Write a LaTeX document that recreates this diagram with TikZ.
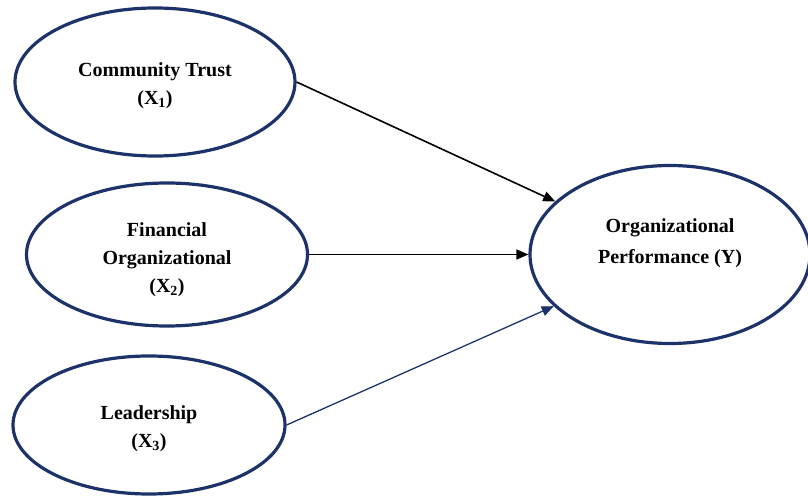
\documentclass[tikz,border=0pt]{standalone}
\usepackage{fontspec}
\setmainfont{Liberation Serif}
\usepackage{xcolor}
\usetikzlibrary{arrows.meta, shapes.geometric}

\definecolor{navy}{RGB}{28,50,104}

\begin{document}
\begin{tikzpicture}[
            x=1pt, y=-1pt,
            var/.style={ellipse, draw=navy, line width=3.2pt, inner sep=0pt},
            txt/.style={align=center, inner sep=0pt, font=\fontsize{20}{28}\selectfont\bfseries},
            arr/.style={-{Triangle[length=12pt, width=10pt]}, line width=1.6pt, black},
        ]
        \useasboundingbox (0,0) rectangle (808,497);

        \node[var, minimum width=280pt, minimum height=148pt,
            label={[txt, yshift=-4pt]center:{Community Trust\\(X\textsubscript{1})}}] (ct) at (155, 82) {};
        \node[var, minimum width=281pt, minimum height=143pt,
            label={[txt, yshift=-5pt]center:{Financial\\Organizational\\(X\textsubscript{2})}}] (fo) at (167, 254.5) {};
        \node[var, minimum width=272pt, minimum height=138pt,
            label={[txt, yshift=-4pt]center:{Leadership\\(X\textsubscript{3})}}] (ld) at (149, 425) {};
        \node[var, minimum width=280pt, minimum height=178pt,
            label={[txt, yshift=11pt, font=\fontsize{20}{31}\selectfont\bfseries]center:{Organizational\\Performance (Y)}}] (op) at (670, 254.5) {};

        \draw[arr] (ct.east) -- (op);
        \draw[arr] (fo.east) -- (fo.east -| op.west);
        \draw[arr, navy, line width=1.3pt] (ld.east) -- (op);
    \end{tikzpicture}
\end{document}
